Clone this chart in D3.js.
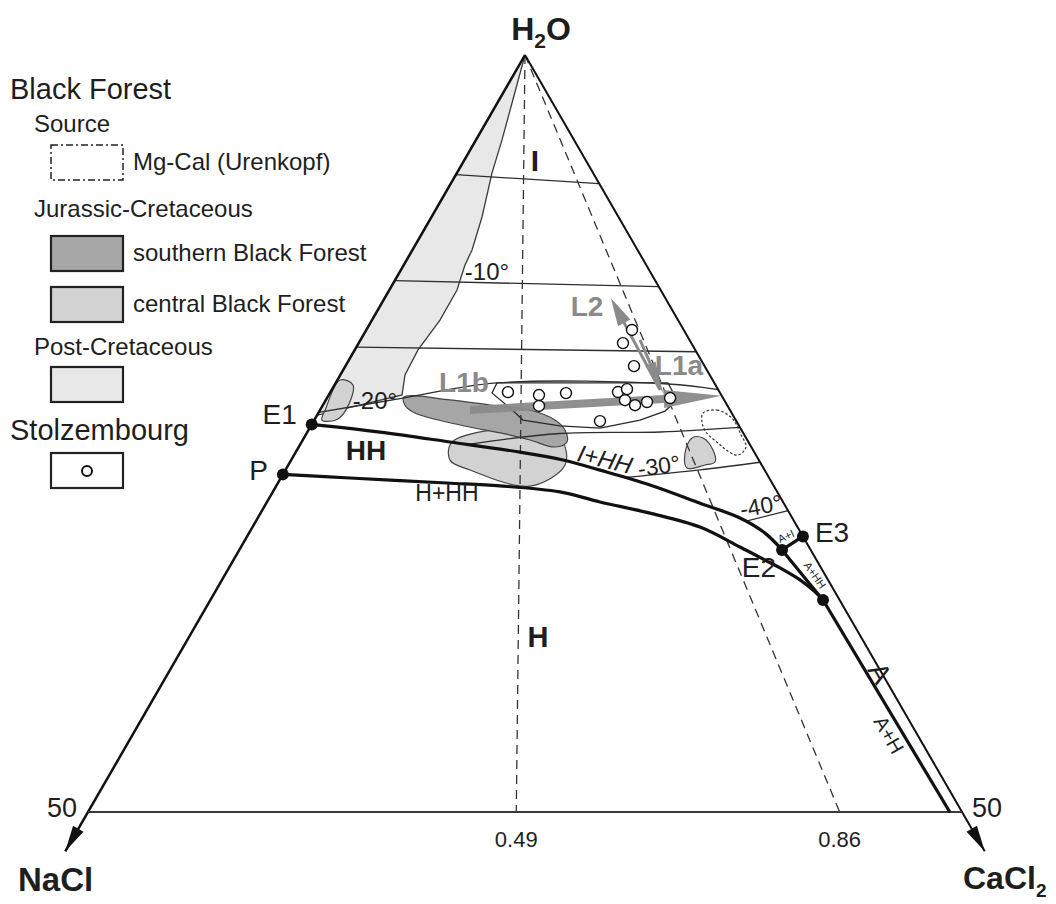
<!DOCTYPE html>
<html>
<head>
<meta charset="utf-8">
<script src="https://cdn.jsdelivr.net/npm/d3@7"></script>
<style>
  body { margin: 0; background: #fff; }
  text { font-family: "Liberation Sans", Arial, Helvetica, sans-serif; fill: #1e1e1e; }
</style>
</head>
<body>
<svg id="chart" width="1056" height="904"></svg>
<script>
// Compositions are wt% [NaCl, CaCl2]; H2O is the remainder (upper half of the ternary, H2O >= 50 wt%).

const ratioTicks = [0.49, 0.86];           // CaCl2/(NaCl+CaCl2) guide lines from the H2O apex
const baseTicks = [50, 50];                 // wt% salt at the lower cut of the diagram

// ice-melting isotherms (deg C)
const isoMinus5  = [[7.9, 0], [0, 8.5]];
const isoMinus10 = [[14.9, 0], [0, 15.3]];
const isoMinus15 = [[19.3, 0], [0, 19.6]];
const isoMinus20 = [[23.6, 0], [18.5, 4.2], [12.43, 9.23], [2.68, 19.05], [0, 22.1]];
const isoMinus25 = [[16.0, 9.7], [10.5, 14.5], [4.7, 20.2], [0, 24.6]];
const isoMinus30 = [[8.2, 19.7], [3.7, 23.7], [0, 26.9]];
const isoMinus40 = [[2.8, 28.0], [0, 30.1]];
const isotherms = [isoMinus5, isoMinus10, isoMinus15, isoMinus20, isoMinus25, isoMinus30, isoMinus40];

// phase boundaries
const cotecticE1E2 = [[24.4, 0], [20.75, 4.16], [17.07, 8.49], [13.4, 12.83], [11.2, 15.55], [9.42, 18.0],
                      [7.05, 21.35], [4.79, 24.81], [2.99, 27.59], [2.06, 29.52], [1.64, 31.05]];
const peritecticCurve = [[27.7, 0], [23.98, 3.96], [18.6, 9.67], [15.66, 12.8], [12.43, 16.43], [10.47, 19.05],
                         [7.98, 22.28], [5.58, 25.6], [3.95, 28.55], [2.95, 30.41], [2.35, 31.53], [1.6, 33.07],
                         [1.14, 34.32], [0.95, 35.05]];
const cotecticE2E3 = [[1.64, 31.05], [0, 31.8]];
const curveE2Q = [[1.64, 31.05], [1.34, 32.81], [0.95, 35.05]];
const curveQBase = [[0.95, 35.05], [0.7, 49.3]];

const invariantNames = ["E1", "P", "E2", "E3", ""];
const invariantPoints = [[24.4, 0], [27.7, 0], [1.64, 31.05], [0, 31.8], [0.95, 35.05]];

// Black Forest fluid-inclusion fields
const postCretaceous = [[0, 0], [4.12, 1.49], [5.79, 2.01], [7.81, 2.89], [9.47, 3.41], [10.37, 3.5], [11.65, 3.87],
                        [13.62, 3.89], [15.86, 3.62], [17.43, 3.7], [18.26, 4.19], [23.8, 0]];
const centralSmallE1 = [[23.04, 0.27], [21.32, 0.15], [20.74, 1.06], [21.96, 1.48], [22.87, 1.24], [23.67, 0.44]];
const centralLarge = [[16.96, 8.61], [11.46, 13.18], [10.6, 14.83], [11.25, 15.83], [13.95, 14.52], [16.85, 10.56], [17.67, 9.09]];
const centralSmallCa = [[3.09, 22.2], [2.47, 22.83], [2.29, 23.8], [2.57, 24.31], [3.24, 23.84], [4.37, 22.91], [3.99, 22.3]];
const southern = [[18.22, 4.37], [15.68, 7.1], [13.56, 9.56], [11.44, 12.01], [10.34, 13.77], [10.1, 14.67], [10.38, 15.18],
                  [11.23, 14.66], [12.43, 13.0], [13.66, 11.37], [15.94, 8.5], [18.12, 5.53], [18.43, 4.7]];
const mgCalSource = [[1.64, 22.01], [0.74, 22.71], [0.15, 23.83], [0.19, 24.91], [0.3, 25.59], [1.03, 25.4],
                     [1.47, 24.7], [1.77, 23.86], [2.1, 22.81], [2.0, 22.25]];

// Stolzembourg inclusions
const stolzField = [[12.43, 9.23], [2.65, 19.01], [2.7, 20.09], [3.75, 19.77], [5.48, 18.64], [8.03, 16.61],
                    [10.25, 14.25], [12.17, 11.94], [12.52, 10.8], [13.05, 9.27]];
const stolzNaCl  = [2.96, 3.91, 4.04, 12.11, 10.43, 10.79, 8.82, 5.81, 5.2, 5.68, 5.27, 4.48, 3.03, 7.8];
const stolzCaCl2 = [15.2, 15.12, 16.51, 10.16, 12.03, 12.39, 13.51, 16.45, 16.87, 17.12, 17.86, 18.44, 19.63, 16.38];

// evolution trends [from, to]
const trendL1b = [[14.87, 8.58], [0, 22.5]];
const trendL2  = [[3.34, 18.79], [3.11, 12.95]];
const trendL1a = [[2.83, 15.99], [3.27, 19.06]];

// text placed at compositions
const fieldLabelText = ["I", "H", "HH", "H+HH", "-10°", "-20°", "I+HH", "-30°", "-40°", "A+I", "A+HH", "A", "A+H"];
const fieldLabelAt = [[2.9, 4.04], [18.48, 19.97], [22.17, 3.98], [18.93, 10.0], [9.34, 4.99], [19.98, 2.81],
                      [8.77, 17.92], [5.91, 21.24], [1.39, 28.4], [0.96, 30.82], [0.58, 33.77], [0.1, 40.72], [1.63, 43.28]];
const trendLabelText = ["L2", "L1a", "L1b"];
const trendLabelAt = [[4.74, 11.84], [1.46, 19.08], [14.32, 7.34]];

const legendGroups = ["Source", "Jurassic-Cretaceous", "Post-Cretaceous"];
const legendItems = ["Mg-Cal (Urenkopf)", "southern Black Forest", "central Black Forest", ""];

// ---------------------------------------------------------------------------
const svg = d3.select("#chart");
const sScale = d3.scaleLinear().domain([0, 50]).range([55, 812]);     // total salt -> y
const dScale = d3.scaleLinear().domain([-50, 50]).range([88, 962]);   // CaCl2 - NaCl -> x
const proj = ([n, c]) => [dScale(c - n), sScale(n + c)];

const smooth = d3.line().x(d => proj(d)[0]).y(d => proj(d)[1]).curve(d3.curveCatmullRom.alpha(0.5));
const blob = d3.line().x(d => proj(d)[0]).y(d => proj(d)[1]).curve(d3.curveCatmullRomClosed.alpha(0.5));
const closed = d3.line().x(d => proj(d)[0]).y(d => proj(d)[1]).curve(d3.curveLinearClosed);

const plot = svg.append("g");

// fields
plot.append("path").attr("d", closed(postCretaceous))
  .attr("fill", "#e8e8e8").attr("stroke", "#3a3a3a").attr("stroke-width", 1.3);
plot.append("path").attr("d", blob(centralSmallE1))
  .attr("fill", "#d2d2d2").attr("stroke", "#444").attr("stroke-width", 1.2);
plot.append("path").attr("d", blob(centralLarge))
  .attr("fill", "#d2d2d2").attr("stroke", "#444").attr("stroke-width", 1.2);
plot.append("path").attr("d", blob(centralSmallCa))
  .attr("fill", "#d2d2d2").attr("stroke", "#444").attr("stroke-width", 1.2);
plot.append("path").attr("d", blob(southern))
  .attr("fill", "#a6a6a6").attr("stroke", "#444").attr("stroke-width", 1.2);
plot.append("path").attr("d", blob(mgCalSource))
  .attr("fill", "none").attr("stroke", "#333").attr("stroke-width", 1.2).attr("stroke-dasharray", "2.5,2");

// isotherms
plot.selectAll("path.iso").data(isotherms).join("path").attr("class", "iso")
  .attr("d", d => smooth(d)).attr("fill", "none").attr("stroke", "#2e2e2e").attr("stroke-width", 1.3);

// ratio guide lines
plot.selectAll("line.ratio").data(ratioTicks).join("line").attr("class", "ratio")
  .attr("x1", proj([0, 0])[0]).attr("y1", proj([0, 0])[1])
  .attr("x2", r => proj([50 * (1 - r), 50 * r])[0]).attr("y2", r => proj([50 * (1 - r), 50 * r])[1])
  .attr("stroke", "#333").attr("stroke-width", 1.3).attr("stroke-dasharray", "9,6");

// Stolzembourg field outline
plot.append("path").attr("d", closed(stolzField))
  .attr("fill", "none").attr("stroke", "#2a2a2a").attr("stroke-width", 1.3);

// trends
function arrowPath(a, b, shaft, headW, headL) {
  const [x1, y1] = proj(a), [x2, y2] = proj(b);
  const L = Math.hypot(x2 - x1, y2 - y1), ux = (x2 - x1) / L, uy = (y2 - y1) / L, px = -uy, py = ux;
  const bx = x2 - ux * headL, by = y2 - uy * headL;
  const pts = [[x1 + px * shaft / 2, y1 + py * shaft / 2], [bx + px * shaft / 2, by + py * shaft / 2],
               [bx + px * headW / 2, by + py * headW / 2], [x2, y2], [bx - px * headW / 2, by - py * headW / 2],
               [bx - px * shaft / 2, by - py * shaft / 2], [x1 - px * shaft / 2, y1 - py * shaft / 2]];
  return "M" + pts.map(p => p.join(",")).join("L") + "Z";
}
plot.append("path").attr("d", arrowPath(trendL1b[0], trendL1b[1], 8, 18, 58)).attr("fill", "#8a8a8a").attr("opacity", 0.95);
plot.append("path").attr("d", arrowPath(trendL2[0], trendL2[1], 3, 14, 28)).attr("fill", "#8a8a8a");
plot.append("path").attr("d", arrowPath(trendL1a[0], trendL1a[1], 3, 11, 32)).attr("fill", "#8a8a8a");

// Stolzembourg inclusions
plot.selectAll("circle.stolz").data(d3.range(stolzNaCl.length)).join("circle").attr("class", "stolz")
  .attr("cx", i => proj([stolzNaCl[i], stolzCaCl2[i]])[0])
  .attr("cy", i => proj([stolzNaCl[i], stolzCaCl2[i]])[1])
  .attr("r", 5.5).attr("fill", "#fff").attr("stroke", "#111").attr("stroke-width", 1.4);

// triangle frame
const axisExtent = 52.6;
const apex = proj([0, 0]);
[[axisExtent, 0], [0, axisExtent]].forEach((corner, k) => {
  const tip = proj(corner);
  plot.append("line").attr("x1", apex[0]).attr("y1", apex[1]).attr("x2", tip[0]).attr("y2", tip[1])
    .attr("stroke", "#111").attr("stroke-width", k === 0 ? 2.5 : 2);
  const L = Math.hypot(tip[0] - apex[0], tip[1] - apex[1]);
  const ux = (tip[0] - apex[0]) / L, uy = (tip[1] - apex[1]) / L;
  const bx = tip[0] - ux * 26, by = tip[1] - uy * 26;
  plot.append("path").attr("d", `M${tip[0]},${tip[1]}L${bx - uy * 6},${by + ux * 6}L${bx + uy * 6},${by - ux * 6}Z`)
    .attr("fill", "#111");
});
plot.append("line")
  .attr("x1", proj([50, 0])[0]).attr("y1", proj([50, 0])[1])
  .attr("x2", proj([0, 50])[0]).attr("y2", proj([0, 50])[1])
  .attr("stroke", "#3a3a3a").attr("stroke-width", 2.2);

// phase boundaries
[cotecticE1E2, peritecticCurve, cotecticE2E3, curveE2Q, curveQBase].forEach(c => {
  plot.append("path").attr("d", smooth(c)).attr("fill", "none").attr("stroke", "#111").attr("stroke-width", 3.2);
});
plot.selectAll("circle.inv").data(invariantPoints).join("circle").attr("class", "inv")
  .attr("cx", d => proj(d)[0]).attr("cy", d => proj(d)[1]).attr("r", 6).attr("fill", "#111");

// invariant point names
const nameOffset = [[-15, 0, "end"], [-15, 6, "end"], [-6, 27, "end"], [12, 6, "start"]];
invariantNames.forEach((t, i) => {
  if (!t) return;
  const [x, y] = proj(invariantPoints[i]);
  plot.append("text").attr("x", x + nameOffset[i][0]).attr("y", y + nameOffset[i][1])
    .attr("text-anchor", nameOffset[i][2]).attr("font-size", 28).text(t);
});

// field labels
const fieldStyle = {
  "I": [30, "bold", 0, "normal"], "H": [29, "bold", 0, "normal"], "HH": [28, "bold", 0, "normal"],
  "H+HH": [23, "normal", 0, "normal"], "-10°": [24, "normal", 0, "normal"], "-20°": [24, "normal", 0, "normal"],
  "I+HH": [24, "normal", 14, "italic"], "-30°": [23, "normal", -8, "normal"], "-40°": [23, "normal", -10, "normal"],
  "A+I": [11, "normal", -25, "normal"], "A+HH": [11, "normal", 55, "normal"], "A": [28, "normal", 60, "normal"],
  "A+H": [20, "normal", 60, "normal"]
};
fieldLabelText.forEach((t, i) => {
  const [x, y] = proj(fieldLabelAt[i]);
  const [fs, fw, rot, st] = fieldStyle[t];
  plot.append("text").attr("transform", `translate(${x},${y}) rotate(${rot})`)
    .attr("text-anchor", "middle").attr("dominant-baseline", "central")
    .attr("font-size", fs).attr("font-weight", fw).attr("font-style", st).text(t);
});
trendLabelText.forEach((t, i) => {
  const [x, y] = proj(trendLabelAt[i]);
  plot.append("text").attr("x", x).attr("y", y).attr("text-anchor", "middle").attr("dominant-baseline", "central")
    .attr("font-size", 28).attr("font-weight", "bold").style("fill", "#8a8a8a").text(t);
});

// ratio tick labels and 50 wt% marks
plot.selectAll("text.ratio").data(ratioTicks).join("text").attr("class", "ratio")
  .attr("x", r => proj([50 * (1 - r), 50 * r])[0]).attr("y", r => proj([50 * (1 - r), 50 * r])[1] + 35)
  .attr("text-anchor", "middle").attr("font-size", 22).text(r => d3.format(".2f")(r));
plot.append("text").attr("x", proj([50, 0])[0] - 11).attr("y", proj([50, 0])[1] + 5)
  .attr("text-anchor", "end").attr("font-size", 27).text(baseTicks[0]);
plot.append("text").attr("x", proj([0, 50])[0] + 10).attr("y", proj([0, 50])[1] + 5)
  .attr("text-anchor", "start").attr("font-size", 27).text(baseTicks[1]);

// component names
const h2o = plot.append("text").attr("x", apex[0] + 16).attr("y", apex[1] - 15).attr("text-anchor", "middle")
  .attr("font-size", 32).attr("font-weight", "bold");
h2o.append("tspan").text("H");
h2o.append("tspan").attr("font-size", 21).attr("dy", 8).text("2");
h2o.append("tspan").attr("dy", -8).text("O");
plot.append("text").attr("x", 18).attr("y", 891).attr("font-size", 33).attr("font-weight", "bold").text("NaCl");
const cacl = plot.append("text").attr("x", 963).attr("y", 889).attr("font-size", 32).attr("font-weight", "bold");
cacl.append("tspan").text("CaCl");
cacl.append("tspan").attr("font-size", 19).attr("dy", 8).text("2");

// legend
const lg = svg.append("g");
lg.append("text").attr("x", 10).attr("y", 99).attr("font-size", 29).text("Black Forest");
lg.append("text").attr("x", 34).attr("y", 132).attr("font-size", 24).text(legendGroups[0]);
lg.append("text").attr("x", 34).attr("y", 217).attr("font-size", 24).text(legendGroups[1]);
lg.append("text").attr("x", 34).attr("y", 355).attr("font-size", 24).text(legendGroups[2]);
lg.append("text").attr("x", 10).attr("y", 440).attr("font-size", 29).text("Stolzembourg");

const swatches = [
  { y: 145, fill: "#fff", stroke: "#222", dash: "7,3,2,3", w: 1.5, label: legendItems[0] },
  { y: 236, fill: "#a6a6a6", stroke: "#222", dash: null, w: 2.2, label: legendItems[1] },
  { y: 287, fill: "#d2d2d2", stroke: "#222", dash: null, w: 2.2, label: legendItems[2] },
  { y: 367, fill: "#e8e8e8", stroke: "#222", dash: null, w: 2.2, label: legendItems[3] },
  { y: 453, fill: "#fff", stroke: "#222", dash: null, w: 2.2, label: "" }
];
swatches.forEach(s => {
  lg.append("rect").attr("x", 51).attr("y", s.y).attr("width", 72).attr("height", 35)
    .attr("fill", s.fill).attr("stroke", s.stroke).attr("stroke-width", s.w)
    .attr("stroke-dasharray", s.dash);
  if (s.label) lg.append("text").attr("x", 133).attr("y", s.y + 25).attr("font-size", 24).text(s.label);
});
lg.append("circle").attr("cx", 87).attr("cy", 471).attr("r", 5).attr("fill", "#fff")
  .attr("stroke", "#111").attr("stroke-width", 2);
</script>
</body>
</html>
